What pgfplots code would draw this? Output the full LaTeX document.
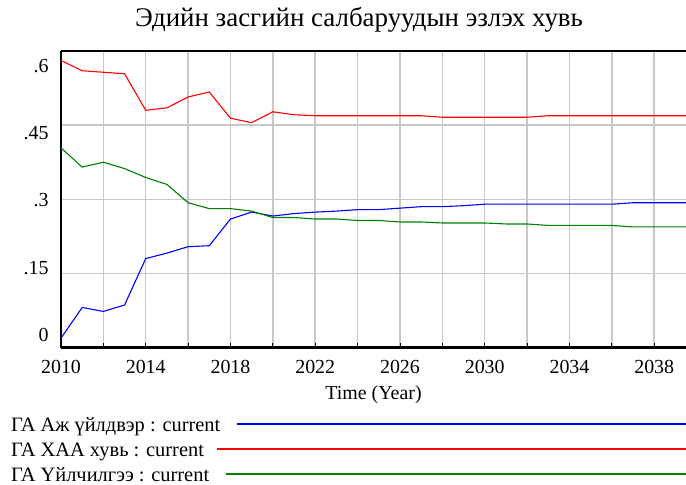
\documentclass[border=0pt]{standalone}
\usepackage{fontspec}
\setmainfont{Liberation Serif}
\usepackage{pgfplots}
\pgfplotsset{compat=1.18}
\definecolor{gridgray}{RGB}{200,200,200}
\definecolor{vgreen}{RGB}{0,128,0}
\begin{document}
\begin{tikzpicture}[x=1bp,y=1bp]
\useasboundingbox (0,0) rectangle (686,-485);
\node[font=\fontsize{27}{31}\selectfont] at (359,-20) {Эдийн засгийн салбаруудын эзлэх хувь};
\begin{axis}[
  at={(61bp,-347.5bp)}, anchor=south west,
  scale only axis, width=625bp, height=296.5bp,
  xmin=2010, xmax=2039.5, ymin=0, ymax=0.6,
  axis x line*=box, axis y line*=left,
  axis line style={line width=2.5bp, black},
  xtick={2010,2012,...,2038},
  xticklabels={2010,,2014,,2018,,2022,,2026,,2030,,2034,,2038},
  xtick pos=bottom,
  ytick={0,0.15,0.3,0.45,0.6},
  yticklabels={0,.15,.3,.45,.6},
  major tick length=5bp,
  tick align=inside,
  tick style={black, line width=0.8bp},
  ytick style={draw=none},
  grid=major,
  grid style={gridgray, line width=1.5bp},
  tick label style={font=\fontsize{20}{24}\selectfont},
  /pgf/number format/assume math mode=true,
  xlabel={Time (Year)},
  xlabel style={font=\fontsize{20}{24}\selectfont, yshift=-5bp},
  xticklabel style={yshift=-9bp},
  yticklabel style={xshift=-9bp, yshift={(12.6-6.9*\ticknum)*1bp}},
]
\addplot[blue, line width=1.1bp] coordinates {
(2010,0.019) (2011,0.081) (2012,0.073) (2013,0.086) (2014,0.180) (2015,0.191)
(2016,0.204) (2017,0.206) (2018,0.260) (2019,0.274) (2020,0.266) (2021,0.271)
(2022,0.274) (2023,0.276) (2024,0.279) (2025,0.279) (2026,0.282) (2027,0.285)
(2028,0.285) (2029,0.287) (2030,0.290) (2031,0.290) (2032,0.290) (2033,0.290)
(2034,0.290) (2035,0.290) (2036,0.290) (2037,0.293) (2038,0.293) (2039,0.293) (2040,0.293)};
\addplot[red, line width=1.1bp] coordinates {
(2010,0.581) (2011,0.560) (2012,0.557) (2013,0.554) (2014,0.480) (2015,0.485)
(2016,0.507) (2017,0.517) (2018,0.464) (2019,0.455) (2020,0.477) (2021,0.471)
(2022,0.469) (2023,0.469) (2024,0.469) (2025,0.469) (2026,0.469) (2027,0.469)
(2028,0.466) (2029,0.466) (2030,0.466) (2031,0.466) (2032,0.466) (2033,0.469)
(2034,0.469) (2035,0.469) (2036,0.469) (2037,0.469) (2038,0.469) (2039,0.469) (2040,0.469)};
\addplot[vgreen, line width=1.1bp] coordinates {
(2010,0.404) (2011,0.365) (2012,0.375) (2013,0.362) (2014,0.344) (2015,0.330)
(2016,0.293) (2017,0.281) (2018,0.281) (2019,0.276) (2020,0.263) (2021,0.263)
(2022,0.260) (2023,0.260) (2024,0.257) (2025,0.257) (2026,0.254) (2027,0.254)
(2028,0.252) (2029,0.252) (2030,0.252) (2031,0.250) (2032,0.250) (2033,0.247)
(2034,0.247) (2035,0.247) (2036,0.247) (2037,0.244) (2038,0.244) (2039,0.244) (2040,0.244)};
\end{axis}
\begin{scope}[font=\fontsize{20.5}{24}\selectfont]
\node[anchor=base west, inner sep=0] at (11,-431) {ГА Аж үйлдвэр : current};
\node[anchor=base west, inner sep=0] at (11,-456) {ГА ХАА хувь : current};
\node[anchor=base west, inner sep=0] at (11,-481) {ГА Үйлчилгээ : current};
\end{scope}
\draw[blue, line width=1.1bp] (237,-424) -- (686,-424);
\draw[red, line width=1.1bp] (217,-449) -- (686,-449);
\draw[vgreen, line width=1.1bp] (226,-474) -- (686,-474);
\end{tikzpicture}
\end{document}
